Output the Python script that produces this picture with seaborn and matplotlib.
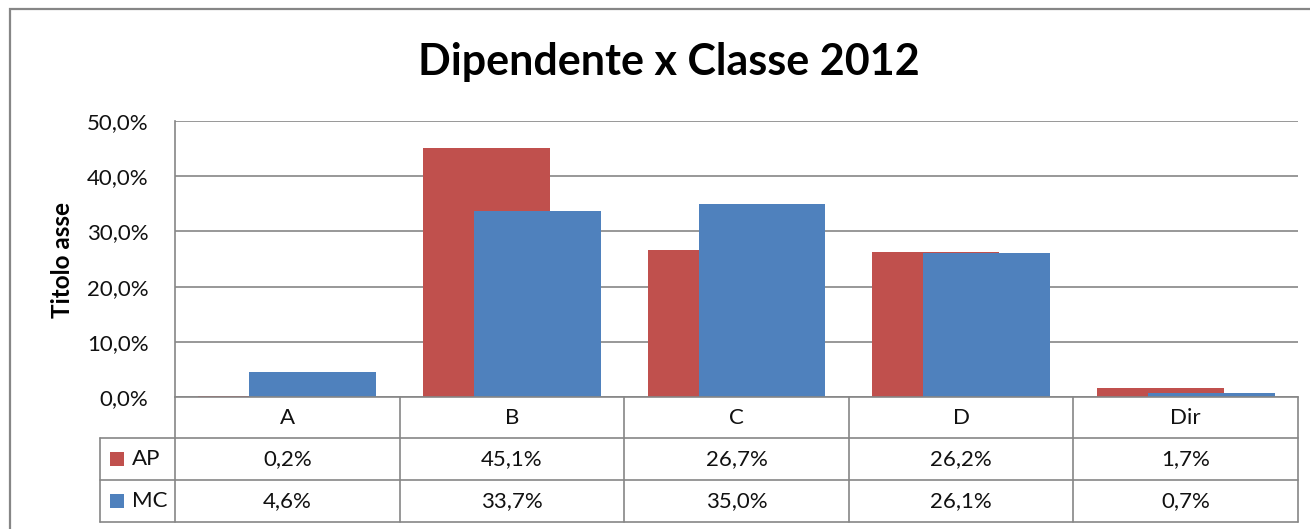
import matplotlib
matplotlib.use("Agg")
import matplotlib.pyplot as plt
import matplotlib.transforms as mtransforms
from matplotlib.patches import Rectangle
from matplotlib.lines import Line2D
import seaborn as sns
import pandas as pd

categories = ["A", "B", "C", "D", "Dir"]
series = ["AP", "MC"]
ap_values = [0.2, 45.1, 26.7, 26.2, 1.7]
mc_values = [4.6, 33.7, 35.0, 26.1, 0.7]
colors = {"AP": "#C0504D", "MC": "#4F81BD"}
title = "Dipendente x Classe 2012"
ylabel = "Titolo asse"

sns.set_theme(style="white")
plt.rcParams["font.family"] = ["Lato", "DejaVu Sans"]

W, H = 1310, 529
fig = plt.figure(figsize=(W / 100, H / 100), dpi=100)
fig.patch.set_facecolor("white")

def fx(px):
    return px / W

def fy(py):
    return 1 - py / H

ax_left, ax_right, ax_top, ax_bottom = 175, 1298, 121, 397
ax = fig.add_axes([fx(ax_left), fy(ax_bottom), fx(ax_right - ax_left), (ax_bottom - ax_top) / H])

df = pd.DataFrame({
    "Classe": categories * 2,
    "Serie": ["AP"] * len(categories) + ["MC"] * len(categories),
    "Valore": ap_values + mc_values,
})

sns.barplot(data=df, x="Classe", y="Valore", hue="Serie", order=categories,
            hue_order=series, palette=colors, ax=ax, legend=False,
            saturation=1, errorbar=None, linewidth=0, width=0.8)

# Excel-style overlapping bars
bar_w = 0.565
offset = 0.1135
for p in ax.patches:
    cx = p.get_x() + p.get_width() / 2
    cat = round(cx)
    is_ap = cx < cat
    c = cat - offset if is_ap else cat + offset
    p.set_width(bar_w)
    p.set_x(c - bar_w / 2)

grid_c = "#868686"
txt_c = "#111111"
fs = 16
ax.set_xlim(-0.5, len(categories) - 0.5)
ax.set_ylim(0, 50)
ax.set_yticks([0, 10, 20, 30, 40, 50])
ax.set_yticklabels([f"{v:.1f}%".replace(".", ",") for v in [0, 10, 20, 30, 40, 50]], fontsize=fs, color=txt_c)
ax.tick_params(axis="y", length=0, pad=19)
ax.set_xticks([])
ax.set_xlabel("")
ax.set_ylabel("")
ax.yaxis.grid(True, color=grid_c, linewidth=1.2)
ax.set_axisbelow(True)
for s in ["top", "right"]:
    ax.spines[s].set_visible(False)
for s in ["left", "bottom"]:
    ax.spines[s].set_color(grid_c)
    ax.spines[s].set_linewidth(1.2)

fig.text(fx(63), fy(260), ylabel, rotation=90, ha="center", va="center",
         fontsize=17.5, fontweight="bold", color="black")
fig.text(fx(669), fy(62), title, ha="center", va="center",
         fontsize=31, fontweight="bold", color="black")

# Data table below the axis
trans = mtransforms.blended_transform_factory(ax.transData, ax.transAxes)
axh = ax_bottom - ax_top
def ay(py):
    return (ax_bottom - py) / axh

row_header_b = ay(438)
row_ap_b = ay(480)
row_mc_b = ay(522)
px_unit = (ax_right - ax_left) / len(categories)
left_col = -0.5 - (ax_left - 100) / px_unit
xmax = len(categories) - 0.5
lkw = dict(color=grid_c, linewidth=1.2, transform=trans, clip_on=False)

for i in range(len(categories) + 1):
    x = i - 0.5
    ax.add_line(Line2D([x, x], [0, row_mc_b], **lkw))
for yb in [row_header_b, row_ap_b, row_mc_b]:
    ax.add_line(Line2D([left_col, xmax], [yb, yb], **lkw))
ax.add_line(Line2D([left_col, left_col], [row_header_b, row_mc_b], **lkw))

def pct(v):
    return f"{v:.1f}%".replace(".", ",")

for i, cat in enumerate(categories):
    ax.text(i, (0 + row_header_b) / 2, cat, transform=trans, ha="center", va="center",
            fontsize=fs, color=txt_c)
    ax.text(i, (row_header_b + row_ap_b) / 2, pct(ap_values[i]), transform=trans,
            ha="center", va="center", fontsize=fs, color=txt_c)
    ax.text(i, (row_ap_b + row_mc_b) / 2, pct(mc_values[i]), transform=trans,
            ha="center", va="center", fontsize=fs, color=txt_c)

sq = 14 / px_unit
sq_h = 14 / axh
for name, yb0, yb1 in [("AP", row_header_b, row_ap_b), ("MC", row_ap_b, row_mc_b)]:
    ym = (yb0 + yb1) / 2
    x0 = -0.5 - (ax_left - 110) / px_unit
    ax.add_patch(Rectangle((x0, ym - sq_h / 2), sq, sq_h, facecolor=colors[name],
                           edgecolor="none", transform=trans, clip_on=False))
    ax.text(-0.5 - (ax_left - 132) / px_unit, ym, name, transform=trans, ha="left",
            va="center", fontsize=fs, color=txt_c)

# Outer chart frame
fig.patches.append(Rectangle((fx(10), -0.2), 1.2, fy(9) + 0.2, transform=fig.transFigure,
                             facecolor="none", edgecolor=grid_c, linewidth=1.6))

fig.savefig("out.png", dpi=100, facecolor="white")
